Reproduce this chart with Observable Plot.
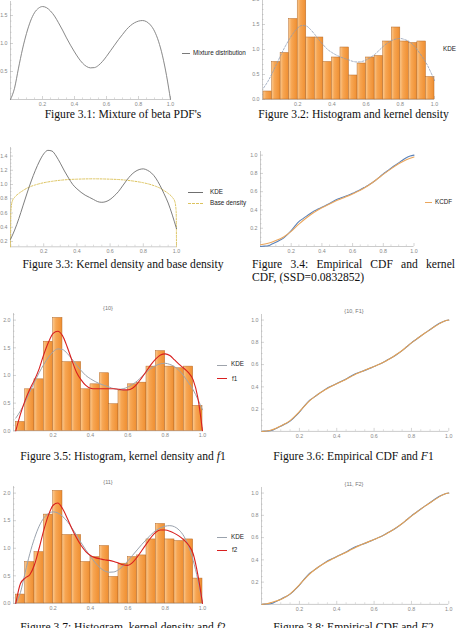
<!DOCTYPE html>
<html>
<head>
<meta charset="utf-8">
<script src="https://cdn.jsdelivr.net/npm/d3@7"></script>
<script src="https://cdn.jsdelivr.net/npm/@observablehq/plot@0.6"></script>
<style>
  html, body { margin: 0; padding: 0; background: #fff; }
  #page { position: relative; width: 457px; height: 628px; overflow: hidden; background: #fff; }
  .panel { position: absolute; }
  .cap { position: absolute; font-family: "Liberation Serif", "Times New Roman", serif; font-size: 11.6px; line-height: 13px; color: #111; white-space: nowrap; text-align: center; }
  .cap.just { text-align: justify; text-align-last: justify; }
  .cap.left { text-align: left; }
  .leg { position: absolute; font-family: "Liberation Sans", Arial, sans-serif; font-size: 6.3px; line-height: 8px; color: #222; white-space: nowrap; }
  .sw { position: absolute; height: 0; }
  .ttl { position: absolute; font-family: "Liberation Sans", Arial, sans-serif; font-size: 5.5px; line-height: 7px; color: #777; white-space: nowrap; transform: translate(-50%, -50%); }
</style>
</head>
<body>
<svg width="0" height="0" style="position:absolute">
  <defs>
    <linearGradient id="barGrad" x1="0" x2="1" y1="0" y2="0">
      <stop offset="0" stop-color="#fbc98f"/>
      <stop offset="0.35" stop-color="#f7a653"/>
      <stop offset="1" stop-color="#ef8e30"/>
    </linearGradient>
  </defs>
</svg>
<div id="page"></div>
<script>
// ---- data ---------------------------------------------------------------
const grid = [0, 0.025, 0.05, 0.075, 0.1, 0.125, 0.15, 0.175, 0.2, 0.225, 0.25, 0.275, 0.3, 0.325, 0.35, 0.375, 0.4, 0.425, 0.45, 0.475, 0.5, 0.525, 0.55, 0.575, 0.6, 0.625, 0.65, 0.675, 0.7, 0.725, 0.75, 0.775, 0.8, 0.825, 0.85, 0.875, 0.9, 0.925, 0.95, 0.975, 1];

// mixture of beta densities
const mixturePdf = [0, 0.2, 0.56, 0.9, 1.18, 1.4, 1.55, 1.63, 1.66, 1.64, 1.58, 1.49, 1.37, 1.24, 1.1, 0.97, 0.85, 0.74, 0.65, 0.59, 0.565, 0.57, 0.61, 0.68, 0.77, 0.87, 0.97, 1.07, 1.16, 1.25, 1.32, 1.37, 1.4, 1.41, 1.39, 1.33, 1.22, 1.04, 0.78, 0.43, 0];

// kernel density estimate
const kdeDensity = [0.23, 0.36, 0.52, 0.7, 0.88, 1.05, 1.2, 1.33, 1.43, 1.48, 1.47, 1.4, 1.3, 1.19, 1.09, 1.0, 0.94, 0.89, 0.85, 0.82, 0.79, 0.76, 0.75, 0.76, 0.79, 0.84, 0.9, 0.98, 1.06, 1.13, 1.18, 1.21, 1.22, 1.2, 1.16, 1.09, 0.99, 0.87, 0.74, 0.57, 0.38];

// corrected densities f1, f2
const f1Density = [0, 0.3, 0.55, 0.75, 0.92, 1.12, 1.38, 1.6, 1.76, 1.8, 1.72, 1.52, 1.28, 1.06, 0.92, 0.82, 0.77, 0.76, 0.76, 0.76, 0.76, 0.76, 0.75, 0.74, 0.74, 0.77, 0.85, 0.96, 1.08, 1.2, 1.3, 1.37, 1.39, 1.36, 1.28, 1.2, 1.13, 1.05, 0.92, 0.6, 0];
const f2Density = [0, 0.36, 0.46, 0.52, 0.7, 1.0, 1.33, 1.6, 1.78, 1.82, 1.72, 1.55, 1.36, 1.19, 1.05, 0.94, 0.87, 0.83, 0.81, 0.79, 0.78, 0.76, 0.73, 0.7, 0.69, 0.74, 0.84, 0.96, 1.08, 1.2, 1.29, 1.33, 1.33, 1.31, 1.27, 1.22, 1.15, 1.06, 0.9, 0.52, 0];

// empirical CDF and the CDFs F1, F2
const ecdf = [0, 0.004, 0.008, 0.027, 0.046, 0.068, 0.092, 0.13, 0.173, 0.225, 0.272, 0.303, 0.333, 0.362, 0.39, 0.41, 0.43, 0.45, 0.47, 0.495, 0.517, 0.533, 0.548, 0.565, 0.582, 0.602, 0.622, 0.645, 0.668, 0.695, 0.725, 0.76, 0.795, 0.826, 0.857, 0.887, 0.915, 0.945, 0.972, 0.99, 1.0];
const f1Cdf = [0, 0.004, 0.012, 0.028, 0.048, 0.07, 0.097, 0.135, 0.178, 0.224, 0.268, 0.303, 0.333, 0.361, 0.386, 0.408, 0.428, 0.448, 0.468, 0.491, 0.514, 0.532, 0.549, 0.566, 0.583, 0.601, 0.621, 0.644, 0.669, 0.697, 0.727, 0.761, 0.795, 0.827, 0.857, 0.886, 0.914, 0.942, 0.968, 0.99, 1.0];
const f2Cdf = [0, 0.006, 0.017, 0.03, 0.045, 0.066, 0.094, 0.132, 0.176, 0.222, 0.266, 0.302, 0.333, 0.36, 0.385, 0.407, 0.428, 0.448, 0.468, 0.49, 0.512, 0.531, 0.549, 0.566, 0.582, 0.6, 0.62, 0.643, 0.668, 0.696, 0.727, 0.76, 0.793, 0.826, 0.856, 0.885, 0.913, 0.941, 0.968, 0.99, 1.0];

// kernel CDF
const kcdfGrid = [0, 0.05, 0.1, 0.15, 0.2, 0.25, 0.3, 0.35, 0.4, 0.45, 0.5, 0.55, 0.6, 0.65, 0.7, 0.75, 0.8, 0.85, 0.9, 0.95, 1];
const kcdf = [0.02, 0.035, 0.065, 0.105, 0.165, 0.245, 0.315, 0.375, 0.425, 0.465, 0.505, 0.54, 0.575, 0.615, 0.665, 0.725, 0.79, 0.85, 0.905, 0.95, 0.98];

// base density
const baseX = [0, 0.002, 0.01, 0.025, 0.05, 0.075, 0.1, 0.125, 0.15, 0.2, 0.25, 0.3, 0.35, 0.4, 0.5, 0.6, 0.65, 0.7, 0.75, 0.8, 0.85, 0.875, 0.9, 0.925, 0.95, 0.975, 0.99, 0.998, 1];
const baseY = [0.125, 0.62, 0.76, 0.82, 0.875, 0.915, 0.95, 0.975, 0.995, 1.025, 1.045, 1.06, 1.07, 1.075, 1.08, 1.075, 1.07, 1.06, 1.045, 1.025, 0.995, 0.975, 0.95, 0.915, 0.875, 0.82, 0.76, 0.62, 0.125];

// histogram
const binEdges = [0, 0.05, 0.1, 0.15, 0.2, 0.25, 0.3, 0.35, 0.4, 0.45, 0.5, 0.55, 0.6, 0.65, 0.7, 0.75, 0.8, 0.85, 0.9, 0.95, 1];
const binHeights = [0.16, 0.75, 0.93, 1.61, 2.04, 1.24, 1.24, 0.75, 0.84, 1.04, 0.48, 0.72, 0.84, 0.87, 1.16, 1.44, 1.16, 1.13, 1.16, 0.45];

// tick positions
const unitTicks = [0.2, 0.4, 0.6, 0.8, 1.0];
const unitMinor = [0.05, 0.1, 0.15, 0.25, 0.3, 0.35, 0.45, 0.5, 0.55, 0.65, 0.7, 0.75, 0.85, 0.9, 0.95];
const densTicksP1 = [0.5, 1.0, 1.5];
const densTicks = [0, 0.5, 1.0, 1.5, 2.0];
const densMinor = [0.1, 0.2, 0.3, 0.4, 0.6, 0.7, 0.8, 0.9, 1.1, 1.2, 1.3, 1.4, 1.6, 1.7, 1.8, 1.9, 2.1];
const kdeTicks = [0.2, 0.4, 0.6, 0.8, 1.0, 1.2, 1.4];
const kdeMinor = [0.15, 0.25, 0.3, 0.35, 0.45, 0.5, 0.55, 0.65, 0.7, 0.75, 0.85, 0.9, 0.95, 1.05, 1.1, 1.15, 1.25, 1.3, 1.35, 1.45, 1.5];
const cdfTicks = [0.2, 0.4, 0.6, 0.8, 1.0];
const cdfMinor = [0.05, 0.1, 0.15, 0.25, 0.3, 0.35, 0.45, 0.5, 0.55, 0.65, 0.7, 0.75, 0.85, 0.9, 0.95];

// ---- helpers ------------------------------------------------------------
const rows = (xs, ys) => xs.map((x, i) => ({x, y: ys[i]}));
const bins = binHeights.map((h, i) => ({x1: binEdges[i], x2: binEdges[i + 1], h}));
const fmt = d3.format(".1f");
const page = document.getElementById("page");

const mL = 22, mR = 6, mT = 6, mB = 12;
const axisColor = "#a8a8a8";

function histogram() {
  return Plot.rectY(bins, {x1: "x1", x2: "x2", y: "h", fill: "url(#barGrad)", stroke: "#b46a2a", strokeWidth: 0.5, inset: 0});
}
function curve(xs, ys, o) {
  return Plot.line(rows(xs, ys), {x: "x", y: "y", curve: "monotone-x", strokeLinejoin: "round", ...o});
}

// g: xd/yd domains, px [left,right] and py [bottom,top] page pixel positions
function panel(g, marks) {
  const plotW = g.px[1] - g.px[0], plotH = g.py[0] - g.py[1];
  const svg = Plot.plot({
    width: plotW + mL + mR,
    height: plotH + mT + mB,
    marginLeft: mL, marginRight: mR, marginTop: mT, marginBottom: mB,
    style: {background: "transparent", overflow: "visible", fontFamily: "'Liberation Sans', Arial, sans-serif", fontSize: "5.3px", color: "#888"},
    x: {domain: g.xd, ticks: g.xt, tickSize: 0, tickPadding: 2.5, tickFormat: fmt, label: null},
    y: {domain: g.yd, ticks: g.yt, tickSize: 0, tickPadding: 3, tickFormat: fmt, label: null},
    marks: [
      Plot.ruleY([g.yd[0]], {stroke: axisColor, strokeWidth: 0.6}),
      Plot.ruleX([g.xd[0]], {stroke: axisColor, strokeWidth: 0.6}),
      Plot.tickX(g.xt, {x: d => d, stroke: axisColor, strokeWidth: 0.5, insetTop: plotH - 3}),
      Plot.tickX(unitMinor, {x: d => d, stroke: axisColor, strokeWidth: 0.4, insetTop: plotH - 1.6}),
      Plot.tickY(g.yt, {y: d => d, stroke: axisColor, strokeWidth: 0.5, insetRight: plotW - 3}),
      Plot.tickY(g.ym, {y: d => d, stroke: axisColor, strokeWidth: 0.4, insetRight: plotW - 1.6}),
      ...marks
    ]
  });
  const div = document.createElement("div");
  div.className = "panel";
  div.style.left = (g.px[0] - mL) + "px";
  div.style.top = (g.py[1] - mT) + "px";
  div.appendChild(svg);
  page.appendChild(div);
}

function addText(cls, html, left, top, extra) {
  const d = document.createElement("div");
  d.className = cls;
  d.innerHTML = html;
  d.style.left = left + "px";
  d.style.top = top + "px";
  if (extra) Object.assign(d.style, extra);
  page.appendChild(d);
}
function swatch(left, y, width, color, style) {
  const d = document.createElement("div");
  d.className = "sw";
  d.style.left = left + "px";
  d.style.top = (y - 0.5) + "px";
  d.style.width = width + "px";
  d.style.borderTop = `1px ${style || "solid"} ${color}`;
  page.appendChild(d);
}

// ---- Figure 3.1: mixture of beta PDFs ----------------------------------
panel({xd: [0, 1], yd: [0, 1.75], px: [10, 170], py: [99, 1], xt: unitTicks, yt: densTicksP1, ym: densMinor},
  [curve(grid, mixturePdf, {stroke: "#7a7a7a", strokeWidth: 0.9})]);
swatch(182, 53, 8, "#7a7a7a");
addText("leg", "Mixture distribution", 193, 49);

// ---- Figure 3.2: histogram and kernel density --------------------------
panel({xd: [-0.006, 1], yd: [0, 2.0], px: [262, 434], py: [99, -1], xt: unitTicks, yt: densTicks, ym: densMinor},
  [histogram(), curve(grid, kdeDensity, {stroke: "#8b9bb4", strokeWidth: 0.8, strokeDasharray: "2,1.6"})]);
addText("leg", "KDE", 443, 45);

// ---- Figure 3.3: kernel density and base density -----------------------
panel({xd: [0, 1], yd: [0.125, 1.52], px: [10, 176], py: [246, 146.7], xt: unitTicks, yt: kdeTicks, ym: kdeMinor},
  [
    curve(baseX, baseY, {stroke: "#dcc35e", strokeWidth: 1, strokeDasharray: "2,1.5"}),
    curve(grid, kdeDensity, {stroke: "#6f6f6f", strokeWidth: 0.9})
  ]);
swatch(188, 192, 15, "#6f6f6f");
addText("leg", "KDE", 210, 188);
swatch(188, 203, 15, "#dcc35e", "dashed");
addText("leg", "Base density", 210, 199);

// ---- Figure 3.4: empirical CDF and kernel CDF --------------------------
panel({xd: [0, 1], yd: [0, 1.04], px: [259.5, 413], py: [246, 151], xt: unitTicks, yt: cdfTicks, ym: cdfMinor},
  [
    curve(grid, ecdf, {stroke: "#5b82b8", strokeWidth: 1.1}),
    curve(kcdfGrid, kcdf, {stroke: "#eba65c", strokeWidth: 1.1})
  ]);
swatch(425, 202, 7, "#eba65c");
addText("leg", "KCDF", 435, 198);

// ---- Figure 3.5: histogram, kernel density and f1 ----------------------
panel({xd: [-0.0123, 1], yd: [0, 2.12], px: [12.7, 201.7], py: [430.7, 313.4], xt: unitTicks, yt: densTicks, ym: densMinor},
  [
    histogram(),
    curve(grid, kdeDensity, {stroke: "#9ea3ab", strokeWidth: 1}),
    curve(grid, f1Density, {stroke: "#d81f1f", strokeWidth: 1.1})
  ]);
addText("ttl", "{10}", 108, 308);
swatch(217, 365, 10, "#9ea3ab");
swatch(217, 378, 10, "#d81f1f");
addText("leg", "KDE", 231, 360);
addText("leg", "f1", 232, 375);

// ---- Figure 3.6: empirical CDF and F1 ----------------------------------
panel({xd: [-0.003, 1], yd: [0, 1.05], px: [260.7, 448], py: [431.3, 314.4], xt: unitTicks, yt: cdfTicks, ym: cdfMinor},
  [
    curve(grid, ecdf, {stroke: "#5b82b8", strokeWidth: 1.1}),
    curve(grid, f1Cdf, {stroke: "#e8a252", strokeWidth: 1.1})
  ]);
addText("ttl", "{10, F1}", 354, 311);

// ---- Figure 3.7: histogram, kernel density and f2 ----------------------
panel({xd: [-0.0123, 1], yd: [0, 2.12], px: [12.7, 201.7], py: [603.3, 486.4], xt: unitTicks, yt: densTicks, ym: densMinor},
  [
    histogram(),
    curve(grid, mixturePdf, {stroke: "#9aa2ad", strokeWidth: 1}),
    curve(grid, f2Density, {stroke: "#d81f1f", strokeWidth: 1.1})
  ]);
addText("ttl", "{11}", 108, 482);
swatch(217, 537, 10, "#9aa2ad");
swatch(217, 550, 10, "#d81f1f");
addText("leg", "KDE", 231, 533);
addText("leg", "f2", 232, 546);

// ---- Figure 3.8: empirical CDF and F2 ----------------------------------
panel({xd: [-0.003, 1], yd: [0, 1.05], px: [260.7, 448], py: [604.3, 487.4], xt: unitTicks, yt: cdfTicks, ym: cdfMinor},
  [
    curve(grid, ecdf, {stroke: "#5b82b8", strokeWidth: 1.1}),
    curve(grid, f2Cdf, {stroke: "#e8a252", strokeWidth: 1.1})
  ]);
addText("ttl", "{11, F2}", 354, 484);

// ---- captions -----------------------------------------------------------
const leftCol = {left: 7, width: 232};
const rightCol = {left: 252, width: 203};
function caption(col, html, centerY, cls) {
  addText("cap" + (cls ? " " + cls : ""), html, col.left, centerY - 6.5, {width: col.width + "px"});
}
caption(leftCol, "Figure 3.1: Mixture of beta PDF's", 114);
caption(rightCol, "Figure 3.2: Histogram and kernel density", 114);
caption(leftCol, "Figure 3.3: Kernel density and base density", 264);
caption(rightCol, "Figure 3.4: Empirical CDF and kernel", 264, "just");
caption(rightCol, "CDF, (SSD=0.0832852)", 277, "left");
caption(leftCol, "Figure 3.5: Histogram, kernel density and <i>f</i>1", 456);
caption(rightCol, "Figure 3.6: Empirical CDF and <i>F</i>1", 456);
caption(leftCol, "Figure 3.7: Histogram, kernel density and <i>f</i>2", 627);
caption(rightCol, "Figure 3.8: Empirical CDF and <i>F</i>2", 627);
</script>
</body>
</html>
